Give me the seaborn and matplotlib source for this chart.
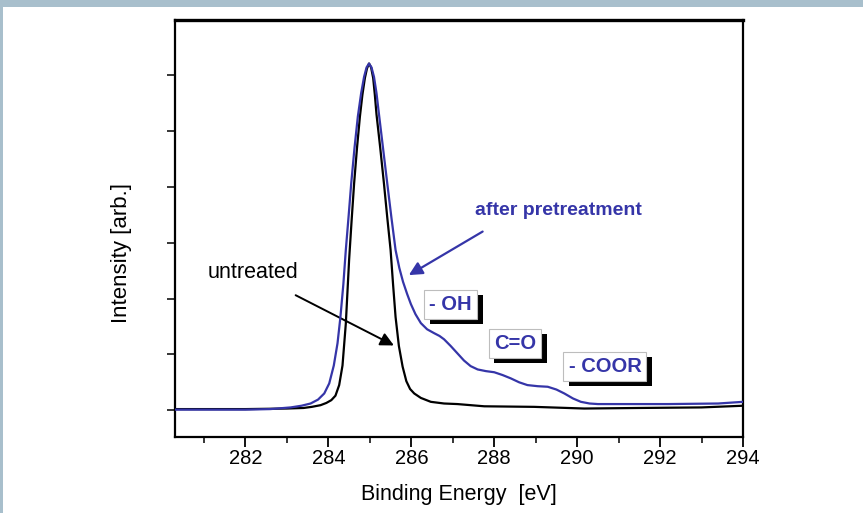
import matplotlib
matplotlib.use("Agg")
import matplotlib.pyplot as plt
import matplotlib.patheffects as pe
from matplotlib.patches import Rectangle
import seaborn as sns
import pandas as pd

# ---- data ----
untreated_x = [280.3, 282.0, 283.0, 283.4, 283.6, 283.81, 283.95, 284.07, 284.17, 284.26,
               284.34, 284.42, 284.50, 284.56, 284.62, 284.69, 284.76, 284.82, 284.88,
               284.93, 284.98, 285.03, 285.08, 285.12, 285.16, 285.25, 285.34, 285.42,
               285.50, 285.56, 285.62, 285.70, 285.79, 285.88, 285.97, 286.07, 286.23,
               286.47, 286.79, 287.11, 287.76, 288.96, 290.17, 291.5, 293.0, 294.0]
untreated_y = [0.02, 0.02, 0.03, 0.04, 0.06, 0.09, 0.13, 0.18, 0.26, 0.45,
               0.80, 1.55, 2.70, 3.40, 4.06, 4.70, 5.26, 5.65, 5.95,
               6.12, 6.21, 6.14, 5.95, 5.65, 5.30, 4.70, 4.06, 3.45,
               2.87, 2.25, 1.67, 1.15, 0.78, 0.52, 0.38, 0.30, 0.22,
               0.15, 0.12, 0.11, 0.07, 0.06, 0.03, 0.04, 0.05, 0.08]

treated_x = [280.3, 282.0, 282.6, 283.09, 283.35, 283.57, 283.75, 283.90, 284.02, 284.13,
             284.22, 284.29, 284.36, 284.42, 284.49, 284.55, 284.63, 284.71, 284.79,
             284.86, 284.92, 284.98, 285.04, 285.10, 285.16, 285.22, 285.32, 285.42,
             285.52, 285.62, 285.71, 285.80, 285.90, 285.99, 286.10, 286.23, 286.38,
             286.55, 286.68, 286.79, 286.95, 287.11, 287.27, 287.43, 287.60, 287.80,
             288.0, 288.2, 288.40, 288.60, 288.80, 289.05, 289.29, 289.50, 289.69,
             289.90, 290.09, 290.30, 290.50, 292.19, 293.4, 294.0]
treated_y = [0.01, 0.01, 0.02, 0.05, 0.08, 0.12, 0.19, 0.30, 0.48, 0.80,
             1.20, 1.67, 2.25, 2.87, 3.50, 4.06, 4.70, 5.26, 5.68,
             5.97, 6.14, 6.21, 6.14, 5.97, 5.68, 5.30, 4.68, 4.06,
             3.45, 2.87, 2.55, 2.30, 2.08, 1.90, 1.72, 1.56, 1.45,
             1.38, 1.33, 1.27, 1.15, 1.02, 0.89, 0.79, 0.73, 0.70,
             0.68, 0.63, 0.57, 0.50, 0.45, 0.43, 0.42, 0.37, 0.30,
             0.21, 0.15, 0.12, 0.11, 0.11, 0.12, 0.15]

x_ticks = [282, 284, 286, 288, 290, 292, 294]
x_tick_labels = ["282", "284", "286", "288", "290", "292", "294"]
y_ticks = [0, 1, 2, 3, 4, 5, 6]

group_labels = ["- OH", "C=O", "- COOR"]
group_x = [286.95, 288.50, 290.67]
group_y = [1.90, 1.20, 0.79]

BLUE = "#3535a8"
FONT = ["Liberation Sans", "DejaVu Sans"]

sns.set_theme(style="white")
plt.rcParams["font.family"] = FONT

fig = plt.figure(figsize=(8.63, 5.13), dpi=100, facecolor="white")
# blue-grey frame of the original picture
fig.add_artist(Rectangle((0, 1 - 7 / 513), 1, 7 / 513, transform=fig.transFigure,
                         color="#a8bfcc", lw=0, zorder=-5))
fig.add_artist(Rectangle((0, 0), 3 / 863, 1, transform=fig.transFigure,
                         color="#a8bfcc", lw=0, zorder=-5))

ax = fig.add_axes([175 / 863, 1 - 437 / 513, (743 - 175) / 863, (437 - 20) / 513])

df_u = pd.DataFrame({"E": untreated_x, "I": untreated_y})
df_t = pd.DataFrame({"E": treated_x, "I": treated_y})
sns.lineplot(data=df_u, x="E", y="I", ax=ax, color="black", lw=1.6, sort=False, zorder=3)
sns.lineplot(data=df_t, x="E", y="I", ax=ax, color=BLUE, lw=1.6, sort=False, zorder=4)

ax.set_xlim(280.3, 294.0)
ax.set_ylim(-0.48, 6.99)
ax.set_xticks(x_ticks)
ax.set_xticklabels(x_tick_labels)
ax.set_xticks([281, 283, 285, 287, 289, 291, 293], minor=True)
ax.set_yticks(y_ticks)
ax.set_yticklabels([])
ax.tick_params(axis="x", which="major", direction="out", length=7, width=1.3,
               labelsize=14.5, pad=2, bottom=True, colors="black")
ax.tick_params(axis="x", which="minor", direction="out", length=4, width=1.3, bottom=True)
ax.tick_params(axis="y", which="major", direction="out", length=6, width=1.3, left=True)
for s in ax.spines.values():
    s.set_color("black")
    s.set_linewidth(1.6)
ax.spines["top"].set_linewidth(2.4)

ax.set_xlabel("Binding Energy  [eV]", fontsize=15.5, color="black")
ax.set_ylabel("Intensity [arb.]", fontsize=16, color="black")
ax.xaxis.set_label_coords(0.5, -0.113)
ax.yaxis.set_label_coords(-0.076, 0.442)

# labels and arrows
ax.text(289.54, 3.57, "after pretreatment", color=BLUE, fontsize=14, fontweight="bold",
        ha="center", va="center")
ax.annotate("", xy=(285.94, 2.42), xytext=(287.72, 3.20),
            arrowprops=dict(arrowstyle="-|>", color=BLUE, lw=1.6, mutation_scale=20,
                            shrinkA=0, shrinkB=0))
ax.text(282.17, 2.47, "untreated", color="black", fontsize=15.5, ha="center", va="center")
ax.annotate("", xy=(285.58, 1.16), xytext=(283.21, 2.06),
            arrowprops=dict(arrowstyle="-|>", color="black", lw=1.4, mutation_scale=20,
                            shrinkA=0, shrinkB=0))

for lab, gx, gy in zip(group_labels, group_x, group_y):
    t = ax.text(gx, gy, lab, color=BLUE, fontsize=14.5, fontweight="bold",
                ha="center", va="center", zorder=6,
                bbox=dict(boxstyle="square,pad=0.25", fc="white", ec="#bdbdbd", lw=0.8))
    t.get_bbox_patch().set_path_effects([
        pe.SimplePatchShadow(offset=(4, -4), shadow_rgbFace="black", alpha=1.0),
        pe.Normal()])

fig.savefig("out.png", dpi=100, facecolor="white")
